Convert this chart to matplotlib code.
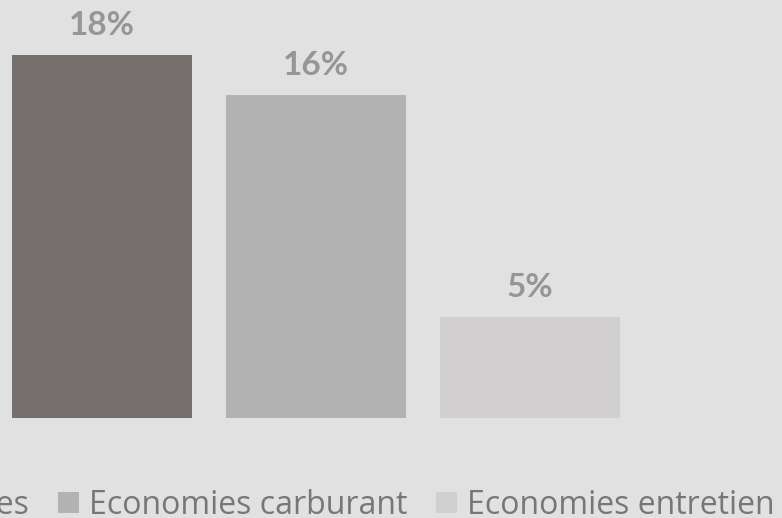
import matplotlib
matplotlib.use("Agg")
import matplotlib.pyplot as plt
from matplotlib.patches import Patch

series = ["Economies totales", "Economies carburant", "Economies entretien"]
values = [18, 16, 5]
labels = ["18%", "16%", "5%"]
colors = ["#756f6e", "#b3b3b3", "#d1cfd0"]

BG = "#e1e1e1"
plt.rcParams["font.family"] = ["Open Sans", "DejaVu Sans"]

W, H = 782, 518
fig = plt.figure(figsize=(W / 100, H / 100), dpi=100, facecolor=BG)
ax = fig.add_axes([0, 100 / H, 1, 418 / H])
ax.set_facecolor(BG)

px_per_unit = 214.0
x0 = 101.5
ax.set_xlim(-x0 / px_per_unit, (W - x0) / px_per_unit)
ax.set_ylim(0, 418 / 363 * 18)

pos = list(range(len(values)))
bars = ax.bar(pos, values, width=180 / px_per_unit, color=colors, linewidth=0)
for b, lab in zip(bars, labels):
    ax.annotate(lab, (b.get_x() + b.get_width() / 2, b.get_height()),
                xytext=(0, 15 * 0.72), textcoords="offset points",
                ha="center", va="bottom", fontsize=24, fontweight="bold",
                color="#969696", family=["Lato", "DejaVu Sans"])
for s in ax.spines.values():
    s.set_visible(False)
ax.set_xticks([])
ax.set_yticks([])

fs = 23
em = fs * 100 / 72
handles = [Patch(facecolor=c, edgecolor="none") for c in colors]
yc = (H - 505) / H
leg = fig.legend(handles, series, ncol=3, loc="center left",
                 bbox_to_anchor=(0, yc), frameon=False,
                 fontsize=fs, labelcolor="#777777",
                 handlelength=21 / em, handleheight=20 / em,
                 handletextpad=10 / em, columnspacing=29 / em,
                 borderpad=0, borderaxespad=0)

fig.canvas.draw()
# shift legend so second marker starts at x = 58 px
patch2 = leg.legend_handles[1]
bb = patch2.get_window_extent()
dx = 58 - bb.x0
leg.set_bbox_to_anchor((dx / W, yc), transform=fig.transFigure)

fig.savefig("out.png", dpi=100, facecolor=BG)
